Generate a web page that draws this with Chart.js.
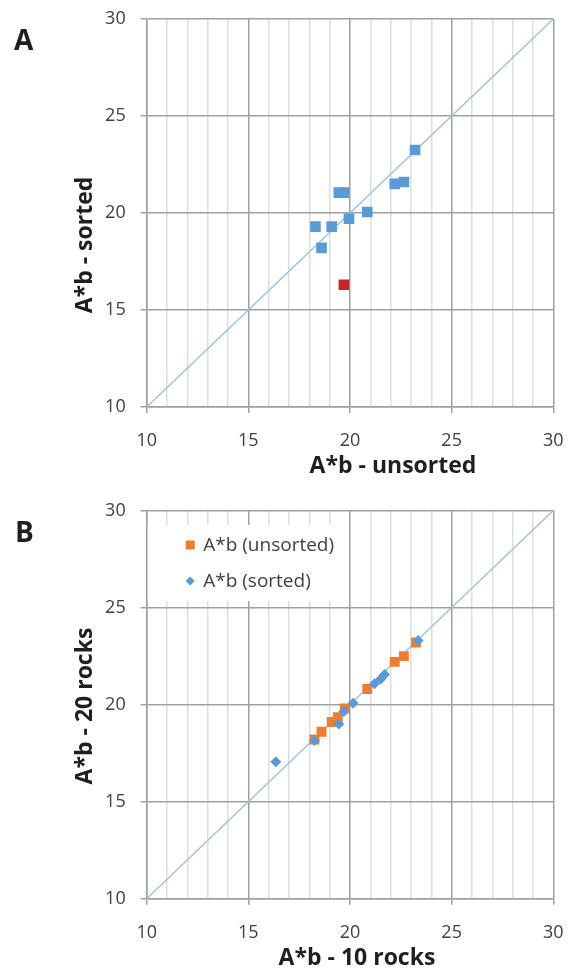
<!DOCTYPE html>
<html>
<head>
<meta charset="utf-8">
<script src="https://cdn.jsdelivr.net/npm/chart.js@4.4.1/dist/chart.umd.min.js"></script>
<style>
  html, body { margin: 0; padding: 0; background: #ffffff; }
  #wrap { position: relative; width: 581px; height: 973px; }
  canvas { position: absolute; left: 0; }
  #chartA { top: 0; }
  #chartB { top: 486px; }
</style>
</head>
<body>
<div id="wrap">
  <canvas id="chartA" width="581" height="486"></canvas>
  <canvas id="chartB" width="581" height="487"></canvas>
</div>
<script>
// Panel A: A*b from unsorted (x) vs sorted (y) material
const aUnsortedX = [18.3, 18.6, 19.1, 19.45, 19.7, 19.95, 20.85, 22.2, 22.65, 23.2];
const aSortedY   = [19.3, 18.2, 19.3, 21.05, 21.05, 19.7, 20.05, 21.5, 21.6, 23.25];
const aOutlierX  = [19.7];
const aOutlierY  = [16.3];

// Panel B: A*b from 10 rocks (x) vs 20 rocks (y)
const bUnsorted10 = [18.25, 18.6, 19.1, 19.4, 19.75, 20.85, 22.2, 22.65, 23.25];
const bUnsorted20 = [18.2, 18.6, 19.1, 19.35, 19.8, 20.8, 22.2, 22.5, 23.2];
const bSorted10   = [16.35, 18.25, 19.45, 19.7, 20.15, 21.2, 21.5, 21.7, 23.35];
const bSorted20   = [17.05, 18.15, 19.0, 19.65, 20.07, 21.07, 21.3, 21.55, 23.3];

// 1:1 reference line and labelled axis values
const oneToOne   = [10, 30];
const axisTicks  = [10, 15, 20, 25, 30];
const seriesNames = ['A*b (unsorted)', 'A*b (sorted)'];

const BLUE = '#5B9BD5', ORANGE = '#ED7D31', RED = '#C9232A', LINE = '#9DC3E6';
const MAJOR = '#a0a0a0', MINOR = '#dedede', TEXT = '#404040', TITLE = '#1f1f1f';
const FONT = '"Open Sans", "DejaVu Sans", sans-serif';

const pts = (xs, ys) => xs.map((x, i) => ({ x, y: ys[i] }));
const isMajor = c => axisTicks.includes(c.tick && c.tick.value);

function makeScales(xAxisHeight) {
  const tickFont = { family: FONT, size: 18 };
  return {
    x: {
      type: 'linear', min: 10, max: 30,
      ticks: {
        stepSize: 1, autoSkip: false, maxRotation: 0, padding: 17,
        color: TEXT, font: tickFont,
        callback: v => axisTicks.includes(v) ? String(v) : ''
      },
      grid: {
        color: c => isMajor(c) ? MAJOR : MINOR,
        lineWidth: 1.5,
        tickColor: c => isMajor(c) ? MAJOR : 'rgba(0,0,0,0)',
        tickLength: 6, tickWidth: 1.5
      },
      border: { color: MAJOR, width: 1.5 },
      afterFit: s => { s.height = xAxisHeight; s.paddingLeft = 0; s.paddingRight = 0; }
    },
    y: {
      type: 'linear', min: 10, max: 30,
      ticks: { stepSize: 5, padding: 15, color: TEXT, font: tickFont },
      grid: { color: MAJOR, lineWidth: 1.5, tickColor: MAJOR, tickLength: 6, tickWidth: 1.5 },
      border: { color: MAJOR, width: 1.5 },
      afterFit: s => { s.width = 146.7; s.paddingTop = 0; s.paddingBottom = 0; }
    }
  };
}

// Panel letter and axis titles
const panelText = {
  id: 'panelText',
  afterDraw(chart, args, o) {
    const ctx = chart.ctx;
    ctx.save();
    ctx.fillStyle = TITLE;
    ctx.textBaseline = 'alphabetic';
    ctx.textAlign = 'left';
    ctx.font = 'bold 28px ' + FONT;
    ctx.fillText(o.panel, o.panelX, o.panelY);
    ctx.font = 'bold 23px ' + FONT;
    ctx.textAlign = 'center';
    ctx.fillText(o.xTitle, o.xTitleX, o.xTitleY);
    ctx.translate(o.yTitleX, o.yTitleY);
    ctx.rotate(-Math.PI / 2);
    ctx.fillText(o.yTitle, 0, 0);
    ctx.restore();
  }
};

// Legend drawn inside the plot area
const insetLegend = {
  id: 'insetLegend',
  afterDraw(chart, args, o) {
    if (!o.items) return;
    const { ctx, chartArea } = chart;
    ctx.save();
    ctx.fillStyle = '#ffffff';
    ctx.fillRect(chartArea.left + 1, chartArea.top + o.boxTop, o.boxWidth, o.boxHeight);
    ctx.font = '19px ' + FONT;
    ctx.textBaseline = 'middle';
    ctx.textAlign = 'left';
    o.items.forEach((idx, i) => {
      const ds = chart.data.datasets[idx];
      const cx = chartArea.left + o.x;
      const cy = chartArea.top + o.y + i * o.spacing;
      const h = o.marker / 2;
      ctx.fillStyle = ds.backgroundColor;
      ctx.beginPath();
      if (ds.pointStyle === 'rectRot') {
        ctx.moveTo(cx, cy - h); ctx.lineTo(cx + h, cy); ctx.lineTo(cx, cy + h); ctx.lineTo(cx - h, cy);
        ctx.closePath();
      } else {
        ctx.rect(cx - h, cy - h, 2 * h, 2 * h);
      }
      ctx.fill();
      ctx.fillStyle = TEXT;
      ctx.fillText(ds.label, cx + o.textGap, cy + 1);
    });
    ctx.restore();
  }
};

function lineDataset() {
  return {
    label: '1:1', data: pts(oneToOne, oneToOne), showLine: true,
    borderColor: LINE, borderWidth: 1.5, pointRadius: 0, pointHoverRadius: 0, fill: false
  };
}

function build() {
  new Chart(document.getElementById('chartA'), {
    type: 'scatter',
    data: {
      datasets: [
        { label: 'A*b', data: pts(aUnsortedX, aSortedY), pointStyle: 'rect', pointRadius: 7.5,
          backgroundColor: BLUE, borderColor: BLUE, borderWidth: 0 },
        { label: 'A*b outlier', data: pts(aOutlierX, aOutlierY), pointStyle: 'rect', pointRadius: 7.5,
          backgroundColor: RED, borderColor: RED, borderWidth: 0 },
        lineDataset()
      ]
    },
    options: {
      responsive: false, animation: false,
      layout: { padding: { top: 19, right: 27.7, left: 0, bottom: 0 } },
      scales: makeScales(79),
      plugins: {
        legend: { display: false }, tooltip: { enabled: false },
        panelText: { panel: 'A', panelX: 14, panelY: 50,
          xTitle: 'A*b - unsorted', xTitleX: 393, xTitleY: 473,
          yTitle: 'A*b - sorted', yTitleX: 92, yTitleY: 245 }
      }
    },
    plugins: [panelText]
  });

  new Chart(document.getElementById('chartB'), {
    type: 'scatter',
    data: {
      datasets: [
        { label: seriesNames[1], data: pts(bSorted10, bSorted20), pointStyle: 'rectRot', pointRadius: 5.5,
          backgroundColor: BLUE, borderColor: BLUE, borderWidth: 0 },
        { label: seriesNames[0], data: pts(bUnsorted10, bUnsorted20), pointStyle: 'rect', pointRadius: 7,
          backgroundColor: ORANGE, borderColor: ORANGE, borderWidth: 0 },
        lineDataset()
      ]
    },
    options: {
      responsive: false, animation: false,
      layout: { padding: { top: 24.5, right: 27.7, left: 0, bottom: 0 } },
      scales: makeScales(74.3),
      plugins: {
        legend: { display: false }, tooltip: { enabled: false },
        insetLegend: { items: [1, 0], x: 43.5, y: 34.5, spacing: 36, marker: 9, textGap: 13,
          boxTop: 14.5, boxWidth: 194, boxHeight: 76 },
        panelText: { panel: 'B', panelX: 15, panelY: 56,
          xTitle: 'A*b - 10 rocks', xTitleX: 357, xTitleY: 479,
          yTitle: 'A*b - 20 rocks', yTitleX: 92, yTitleY: 220 }
      }
    },
    plugins: [panelText, insetLegend]
  });
}

const fontsReady = document.fonts && document.fonts.load
  ? Promise.all([document.fonts.load('18px "Open Sans"'), document.fonts.load('bold 23px "Open Sans"')]).catch(() => {})
  : Promise.resolve();
fontsReady.then(build);
</script>
</body>
</html>
